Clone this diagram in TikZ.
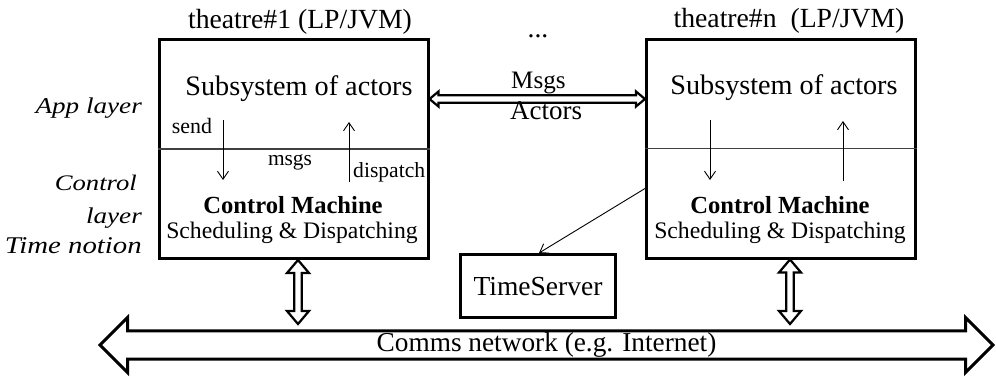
\documentclass[tikz,border=0pt]{standalone}
\usepackage{fontspec}
\setmainfont{Liberation Serif}[ItalicFeatures={FakeStretch=1.2}]
\usetikzlibrary{arrows.meta,shapes.arrows,calc}

\begin{document}
\begin{tikzpicture}[x=1pt,y=-1pt,
  fs/.style={font=\fontsize{#1pt}{#1pt}\selectfont},
  txt/.style={inner sep=0pt, anchor=base},
  layerlabel/.style={txt, anchor=base east, font=\fontsize{#1pt}{#1pt}\selectfont\itshape},
  theatre/.style={draw, line width=3pt, minimum width=269pt, minimum height=219pt, inner sep=0pt},
  divider/.style={line width=1.4pt, draw=black!75},
  flow/.style={line width=0.9pt, -{Straight Barb[length=8pt,width=11pt]}},
  % outlined double-headed block arrow, horizontal (left to right)
  hblock/.style={line width=2.2pt, line join=miter, to path={
    let \p1=(\tikztostart), \p2=(\tikztotarget) in
    (\x1,\y1) -- (\x1+9pt,\y1+7.5pt) -- (\x1+9pt,\y1+3.8pt) -- (\x2-9pt,\y1+3.8pt)
    -- (\x2-9pt,\y1+7.5pt) -- (\x2,\y1) -- (\x2-9pt,\y1-7.5pt) -- (\x2-9pt,\y1-3.8pt)
    -- (\x1+9pt,\y1-3.8pt) -- (\x1+9pt,\y1-7.5pt) -- cycle}},
  % outlined double-headed block arrow, vertical (top to bottom)
  vblock/.style={line width=2.2pt, line join=miter, to path={
    let \p1=(\tikztostart), \p2=(\tikztotarget) in
    (\x1,\y1) -- (\x1+11pt,\y1-13pt) -- (\x1+3.7pt,\y1-13pt) -- (\x1+3.7pt,\y2+13pt)
    -- (\x1+11pt,\y2+13pt) -- (\x1,\y2) -- (\x1-11pt,\y2+13pt) -- (\x1-3.7pt,\y2+13pt)
    -- (\x1-3.7pt,\y1-13pt) -- (\x1-11pt,\y1-13pt) -- cycle}},
]
\useasboundingbox (0,0) rectangle (996,376);

% the two theatres
\node[theatre] (b1) at (293.5,149) {};
\node[theatre] (b2) at (781,148.5) {};
\draw[divider] (b1.west) -- (b1.east);
\draw[divider] (b2.west) -- (b2.east);

\node[txt, fs=27.7] (h1) at (300,28) {theatre\#1 (LP/JVM)};
\node[txt, fs=27.7] (hn) at (789,27) {theatre\#n\ \ (LP/JVM)};
\node[txt, fs=27.6] (dots) at (538,37) {...};

% layer labels
\node[layerlabel=22.6] (lapp) at (142,113) {App layer};
\node[layerlabel=22.2] (lctl) at (137,190) {Control};
\node[layerlabel=22.6] (llay) at (142,223) {layer};
\node[layerlabel=24] (ltim) at (142,253) {Time notion};

% contents of theatre 1
\node[txt, fs=28.2] (sub1) at (299,95) {Subsystem of actors};
\node[txt, fs=24.6] (cm1) at (293,213) {\bfseries Control Machine};
\node[txt, fs=23.7] (sd1) at (292,238) {Scheduling \& Dispatching};
\node[txt, fs=21.9] (send) at (192,133) {send};
\node[txt, fs=21.4] (msgs) at (290,165) {msgs};
\node[txt, anchor=base west, fs=21.6] (disp) at (353,177) {dispatch};

% contents of theatre n
\node[txt, fs=28.2] (sub2) at (784,94) {Subsystem of actors};
\node[txt, fs=24.6] (cm2) at (780,213) {\bfseries Control Machine};
\node[txt, fs=23.7] (sd2) at (780,238) {Scheduling \& Dispatching};

% message flow between the layers
\coordinate (s1a) at ([shift={(-70.5pt,29pt)}]b1.center);
\coordinate (s1b) at ([shift={(-70.5pt,-31pt)}]b1.center);
\coordinate (d1a) at ([shift={(55.5pt,-33pt)}]b1.center);
\coordinate (d1b) at ([shift={(55.5pt,27pt)}]b1.center);
\coordinate (s2a) at ([shift={(-71pt,28.5pt)}]b2.center);
\coordinate (s2b) at ([shift={(-71pt,-31.5pt)}]b2.center);
\coordinate (d2a) at ([shift={(62pt,-32.5pt)}]b2.center);
\coordinate (d2b) at ([shift={(62pt,27.5pt)}]b2.center);
\draw[flow] (s1a) -- (s1b);
\draw[flow] (d1a) -- (d1b);
\draw[flow] (s2a) -- (s2b);
\draw[flow] (d2a) -- (d2b);

% messages and actors travelling between theatres
\draw[hblock] ([yshift=50pt]b1.east) to ([yshift=49.5pt]b2.west);
\node[txt, anchor=base west, fs=25.1] (lmsg) at (511,88) {Msgs};
\node[txt, anchor=base west, fs=27] (lact) at (510,119) {Actors};

% time server
\node[draw, line width=3pt, minimum width=155pt, minimum height=63pt, inner sep=0pt] (ts) at (538,286) {};
\node[txt, fs=27.5] (tsl) at (538,295) {TimeServer};
\draw[flow] ([yshift=-40pt]b2.west) -- ([xshift=1pt]ts.north);

% communication network
\node[draw, line width=3pt, double arrow, double arrow head extend=13pt,
      minimum height=893pt, minimum width=55pt, inner sep=0pt, fs=27.3]
      (net) at (546.5,345) {Comms network (e.g. Internet)};

% theatre to network links
\coordinate (u1) at ([xshift=4.5pt]b1.south);
\coordinate (u2) at ([xshift=9pt]b2.south);
\coordinate (n1) at (u1 |- net.center);
\coordinate (n2) at (u2 |- net.center);
\draw[vblock] (u1) to ([yshift=21pt]n1);
\draw[vblock] (u2) to ([yshift=21pt]n2);
\end{tikzpicture}
\end{document}
